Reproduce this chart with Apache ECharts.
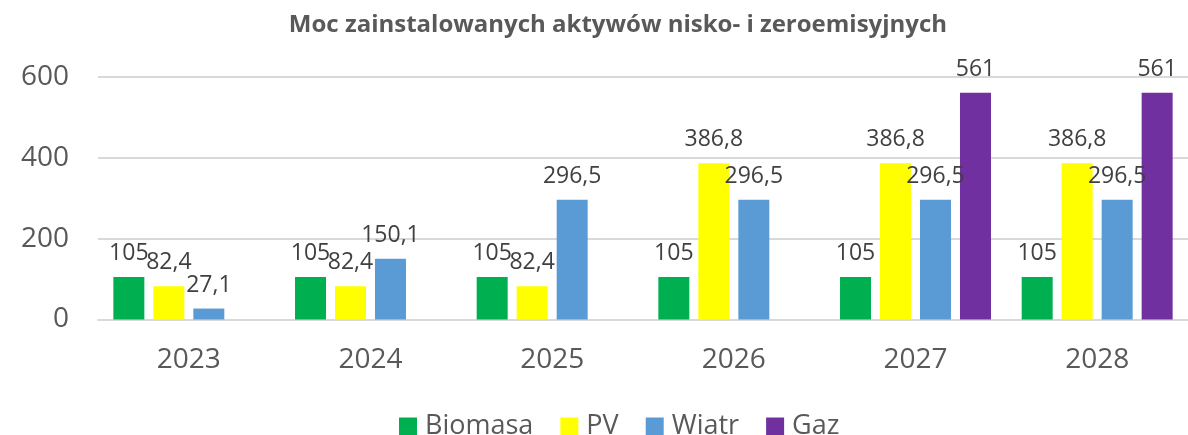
<!DOCTYPE html>
<html>
<head>
<meta charset="utf-8">
<script src="https://cdn.jsdelivr.net/npm/echarts@6/dist/echarts.min.js"></script>
<style>
html,body{margin:0;padding:0;background:#fff;}
#chart{width:1188px;height:435px;}
</style>
</head>
<body>
<div id="chart"></div>
<script>
const titleText = 'Moc zainstalowanych aktywów nisko- i zeroemisyjnych';
const categories = ['2023', '2024', '2025', '2026', '2027', '2028'];
const biomasa = [105, 105, 105, 105, 105, 105];
const pv = [82.4, 82.4, 82.4, 386.8, 386.8, 386.8];
const wiatr = [27.1, 150.1, 296.5, 296.5, 296.5, 296.5];
const gaz = [null, null, null, null, 561, 561];
const seriesNames = ['Biomasa', 'PV', 'Wiatr', 'Gaz'];
const colors = ['#00B050', '#FFFF00', '#5B9BD5', '#7030A0'];

const FONT = 'Open Sans';
const fmt = p => String(p.value).replace('.', ',');

function mkSeries(name, data, color) {
  return {
    name: name,
    type: 'bar',
    data: data,
    barWidth: 31,
    barGap: '29%',
    itemStyle: { color: color },
    label: {
      show: true,
      position: 'top',
      distance: 12,
      color: '#404040',
      fontFamily: FONT,
      fontSize: 23,
      formatter: fmt
    }
  };
}

const chart = echarts.init(document.getElementById('chart'), null, { renderer: 'canvas' });
chart.setOption({
  backgroundColor: '#fff',
  animation: false,
  color: colors,
  title: {
    text: titleText,
    left: 613,
    top: 8,
    textAlign: 'center',
    textStyle: { fontFamily: FONT, fontSize: 24, fontWeight: 'bold', color: '#595959' }
  },
  legend: {
    data: seriesNames,
    left: 394,
    top: 408,
    itemWidth: 18,
    itemHeight: 18,
    itemGap: 27,
    icon: 'rect',
    textStyle: { fontFamily: FONT, fontSize: 27, color: '#595959', padding: [0, 0, 0, 3] }
  },
  grid: { left: 98, right: 0, top: 77, bottom: 115.5 },
  xAxis: {
    type: 'category',
    data: categories,
    axisLine: { show: true, lineStyle: { color: '#D9D9D9', width: 2 } },
    axisTick: { show: false },
    axisLabel: { fontFamily: FONT, fontSize: 28, color: '#595959', margin: 27 }
  },
  yAxis: {
    type: 'value',
    min: 0,
    max: 600,
    interval: 200,
    axisLine: { show: false },
    axisTick: { show: false },
    splitLine: { lineStyle: { color: '#D9D9D9', width: 2 } },
    axisLabel: { fontFamily: FONT, fontSize: 28, color: '#595959', margin: 29 }
  },
  series: [
    mkSeries(seriesNames[0], biomasa, colors[0]),
    mkSeries(seriesNames[1], pv, colors[1]),
    mkSeries(seriesNames[2], wiatr, colors[2]),
    mkSeries(seriesNames[3], gaz, colors[3])
  ]
});
</script>
</body>
</html>
